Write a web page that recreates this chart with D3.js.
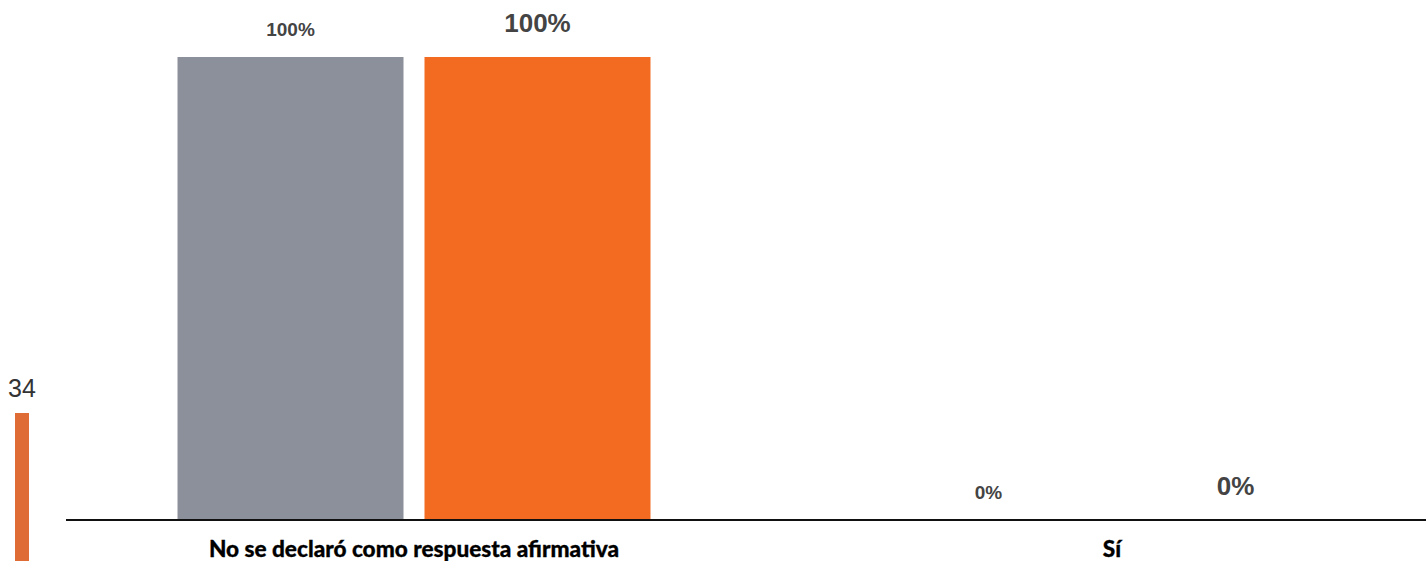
<!DOCTYPE html>
<html>
<head>
<meta charset="utf-8">
<script src="https://cdn.jsdelivr.net/npm/d3@7"></script>
<style>
  html, body { margin: 0; padding: 0; background: #fff; }
  svg { display: block; }
</style>
</head>
<body>
<svg id="chart" width="1426" height="561"></svg>
<script>
const categories = ["No se declaró como respuesta afirmativa", "Sí"];
const seriesNames = ["grupo1", "grupo2"];
const series1 = [100, 0];
const series2 = [100, 0];
const sideNumber = "34";

const W = 1426, H = 561;
const svg = d3.select("#chart");

const x0 = d3.scaleBand().domain(categories).range([65, 1461]).paddingInner(0).paddingOuter(0);
const x1 = d3.scaleBand().domain(seriesNames).range([0, x0.bandwidth()]).paddingInner(0.085).paddingOuter(0.4555);
const y = d3.scaleLinear().domain([0, 100]).range([520, 57]);

const colors = { grupo1: "#8c909b", grupo2: "#f26b21" };
const labelStyle = {
  grupo1: { size: 19, off: 21 },
  grupo2: { size: 26, off: 25 }
};

const data = categories.map((c, i) => ({
  cat: c,
  vals: [{ key: "grupo1", v: series1[i] }, { key: "grupo2", v: series2[i] }]
}));

const g = svg.selectAll("g.cat").data(data).enter().append("g")
  .attr("class", "cat")
  .attr("transform", d => `translate(${x0(d.cat)},0)`);

g.selectAll("rect").data(d => d.vals).enter().append("rect")
  .attr("x", d => x1(d.key))
  .attr("width", x1.bandwidth())
  .attr("y", d => y(d.v))
  .attr("height", d => y(0) - y(d.v))
  .attr("fill", d => colors[d.key]);

g.selectAll("text.val").data(d => d.vals).enter().append("text")
  .attr("class", "val")
  .attr("x", d => x1(d.key) + x1.bandwidth() / 2)
  .attr("y", d => y(d.v) - labelStyle[d.key].off)
  .attr("text-anchor", "middle")
  .attr("font-family", "Liberation Sans, Arial, sans-serif")
  .attr("font-weight", "bold")
  .attr("font-size", d => labelStyle[d.key].size)
  .attr("fill", "#444")
  .text(d => d.v + "%");

// x axis
const xAxis = d3.axisBottom(x0).tickSize(0).tickPadding(0);
const ax = svg.append("g").attr("transform", `translate(0,${y(0)})`).call(xAxis);
ax.select(".domain").remove();
ax.selectAll("text")
  .attr("dy", 0)
  .attr("y", 37)
  .attr("font-family", "Lato, sans-serif")
  .attr("font-weight", 900)
  .attr("font-size", 22.6)
  .attr("fill", "#000")
  .attr("stroke", "#000")
  .attr("stroke-width", 0.3);
svg.append("line")
  .attr("x1", 66).attr("x2", W)
  .attr("y1", y(0)).attr("y2", y(0))
  .attr("stroke", "#111").attr("stroke-width", 2);

// side decoration
svg.append("text")
  .attr("x", 22).attr("y", 397)
  .attr("text-anchor", "middle")
  .attr("font-family", "Liberation Sans, Arial, sans-serif")
  .attr("font-size", 25)
  .attr("fill", "#333")
  .text(sideNumber);
svg.append("rect")
  .attr("x", 15).attr("y", 413).attr("width", 14).attr("height", H - 413)
  .attr("fill", "#e06c35");
</script>
</body>
</html>
